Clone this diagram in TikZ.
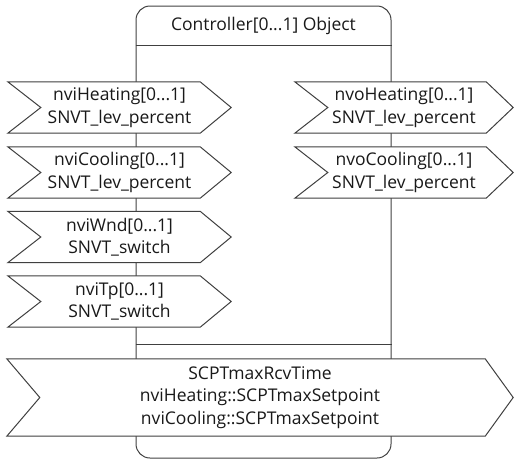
\documentclass[tikz,border=0pt]{standalone}
\usepackage{fontspec}
\setmainfont{Open Sans}
\usetikzlibrary{backgrounds}

% Outline of a flag (notched on the left, pointed on the right) around a node
\newcommand{\flagoutline}[3]{% node name, notch depth, tip depth
  \draw[outline, fill=white]
    (#1.north west) -- ([xshift=-#3]#1.north east) -- (#1.east)
    -- ([xshift=-#3]#1.south east) -- (#1.south west)
    -- ([xshift=#2]#1.west) -- cycle;}

\begin{document}
\begin{tikzpicture}[x=1pt, y=-1pt,
  every node/.style={font=\fontsize{17.5}{22.5}\selectfont, text=black!90,
    align=center, inner sep=0pt},
  outline/.style={draw=black!75, line width=1pt},
  flagbox/.style 2 args={minimum width=#1, minimum height=#2}]

\useasboundingbox (0,0) rectangle (514,459);

% header text
\node (title) at (263.5,25.5) {Controller[0...1] Object};

% inputs
\node[flagbox={223pt}{51pt}] (hin) at (119.5,107.5) {nviHeating[0...1]\\SNVT\_lev\_percent};
\node[flagbox={223pt}{51pt}] (cin) at (119.5,172.5) {nviCooling[0...1]\\SNVT\_lev\_percent};
\node[flagbox={223pt}{51pt}] (win) at (119.5,237)   {nviWnd[0...1]\\SNVT\_switch};
\node[flagbox={223pt}{51pt}] (tin) at (119.5,301.5) {nviTp[0...1]\\SNVT\_switch};

% outputs
\node[flagbox={218pt}{51pt}] (hout) at (404,107.5) {nvoHeating[0...1]\\SNVT\_lev\_percent};
\node[flagbox={218pt}{51pt}] (cout) at (404,172.5) {nvoCooling[0...1]\\SNVT\_lev\_percent};

% configuration properties
\node[flagbox={506pt}{77pt}] (cfg) at (260,397.5)
  {SCPTmaxRcvTime\\nviHeating::SCPTmaxSetpoint\\nviCooling::SCPTmaxSetpoint};

\begin{scope}[on background layer]
  % object body with header and property separators
  \node[outline, rounded corners=14pt, minimum width=255pt, minimum height=452pt]
    (obj) at (263.5,232) {};
  \path (obj.north west) ++(0,40) coordinate (hl) (obj.north east) ++(0,40) coordinate (hr);
  \draw[outline] (hl) -- (hr);
  \path (obj.south west) ++(0,-114) coordinate (bl) (obj.south east) ++(0,-114) coordinate (br);
  \draw[outline] (bl) -- (br);
  % flag outlines, filled so that they hide the body edges
  \flagoutline{hin}{33pt}{31pt}
  \flagoutline{cin}{33pt}{31pt}
  \flagoutline{win}{33pt}{31pt}
  \flagoutline{tin}{33pt}{31pt}
  \flagoutline{hout}{33pt}{27pt}
  \flagoutline{cout}{33pt}{27pt}
  \flagoutline{cfg}{33pt}{28pt}
\end{scope}
\end{tikzpicture}
\end{document}
